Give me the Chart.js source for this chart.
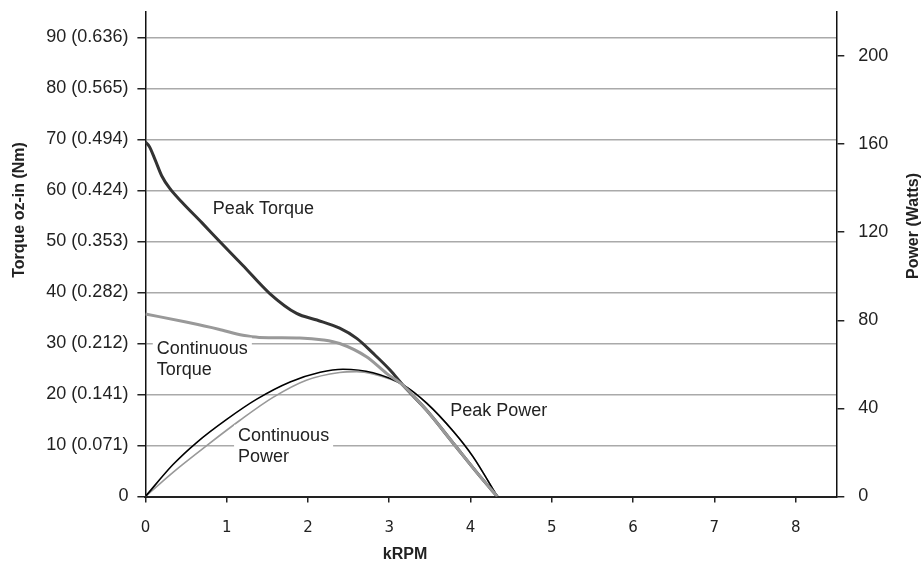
<!DOCTYPE html>
<html>
<head>
<meta charset="utf-8">
<script src="https://cdn.jsdelivr.net/npm/chart.js@4/dist/chart.umd.min.js"></script>
<style>
  html, body { margin: 0; padding: 0; background: #fff; }
  #wrap { width: 922px; height: 565px; }
</style>
</head>
<body>
<div id="wrap"><canvas id="chart" width="922" height="565"></canvas></div>
<script>
// Torque curves (kRPM vs oz-in)
const peakTorqueX = [0, 0.05, 0.12, 0.2, 0.3, 0.45, 0.7, 0.92, 1.2, 1.53, 1.86, 2.11, 2.39, 2.6, 2.8, 3.01, 3.17, 3.46, 3.79, 4.12, 4.33];
const peakTorqueY = [69.5, 68.6, 66.0, 62.9, 60.4, 57.7, 53.6, 49.9, 45.3, 39.8, 35.9, 34.6, 33.0, 31.0, 28.1, 24.8, 21.8, 16.9, 10.4, 3.9, 0];
const contTorqueX = [0, 0.5, 0.9, 1.2, 1.4, 1.9, 2.19, 2.39, 2.72, 2.97, 3.17, 3.46, 3.79, 4.12, 4.33];
const contTorqueY = [35.8, 34.2, 32.8, 31.6, 31.2, 31.1, 30.7, 30.0, 27.4, 24.1, 21.8, 16.9, 10.4, 3.9, 0];

// Power curves (kRPM vs Watts)
const peakPowerX = [0, 0.34, 0.63, 1.0, 1.37, 1.78, 2.15, 2.43, 2.8, 3.17, 3.46, 3.79, 4.03, 4.33];
const peakPowerY = [0, 14.5, 24.5, 35.0, 44.2, 52.0, 56.4, 57.8, 56.2, 50.7, 42.4, 29.5, 18.1, 0];
const contPowerX = [0, 0.34, 0.75, 1.16, 1.57, 1.98, 2.39, 2.6, 2.8, 3.17, 3.46, 3.79, 4.03, 4.33];
const contPowerY = [0, 11.0, 23.0, 34.5, 45.0, 52.8, 56.3, 56.7, 55.6, 50.7, 42.4, 29.5, 18.1, 0];

// tick labels
const kRpmTickLabels = ['0', '1', '2', '3', '4', '5', '6', '7', '8'];
const torqueTickLabels = ['0', '10 (0.071)', '20 (0.141)', '30 (0.212)', '40 (0.282)', '50 (0.353)', '60 (0.424)', '70 (0.494)', '80 (0.565)', '90 (0.636)'];
const powerTickLabels = ['0', '40', '80', '120', '160', '200'];

const toPoints = (xs, ys) => xs.map((x, i) => ({ x: x, y: ys[i] }));

const labelFont = '"Liberation Sans", Arial, sans-serif';

// curve labels, placed in data units (kRPM / oz-in)
const curveNotes = [
    { lines: ['Peak Torque'], x: 0.83, y: 56.3 },
    { lines: ['Continuous', 'Torque'], x: 0.14, y: 29.0, box: true },
    { lines: ['Continuous', 'Power'], x: 1.14, y: 11.9, box: true },
    { lines: ['Peak Power'], x: 3.75, y: 16.8 },
];

const textPlugin = {
    id: 'textPlugin',
    afterDatasetsDraw(chart) {
        const { ctx, scales } = chart;
        const x = scales.x, yT = scales.yTorque;
        ctx.save();
        ctx.font = '18px ' + labelFont;
        ctx.textBaseline = 'middle';
        ctx.textAlign = 'left';
        curveNotes.forEach((n) => {
            const px = x.getPixelForValue(n.x);
            const py = yT.getPixelForValue(n.y);
            if (n.box) {
                const w = Math.max(...n.lines.map((l) => ctx.measureText(l).width));
                ctx.fillStyle = '#fff';
                ctx.fillRect(px - 4, py - 11, w + 8, 21 * n.lines.length + 2);
            }
            ctx.fillStyle = '#222';
            n.lines.forEach((l, i) => ctx.fillText(l, px, py + i * 21));
        });

        // axis titles
        ctx.font = 'bold 16px ' + labelFont;
        ctx.fillStyle = '#222';
        ctx.textAlign = 'center';
        ctx.fillText('kRPM', 405, 555);

        ctx.save();
        ctx.translate(20, 210);
        ctx.rotate(-Math.PI / 2);
        ctx.fillText('Torque oz-in (Nm)', 0, 0);
        ctx.restore();

        ctx.save();
        ctx.translate(914, 226);
        ctx.rotate(-Math.PI / 2);
        ctx.fillText('Power (Watts)', 0, 0);
        ctx.restore();

        ctx.restore();
    },
};

const keepSteps = (step) => (scale) => {
    scale.ticks = scale.ticks.filter((t) => Math.abs(t.value / step - Math.round(t.value / step)) < 1e-6);
};

// fixed axis sizes, no extra room for overhanging labels
const fitWidth = (w) => (s) => { s.width = w; s.paddingTop = 0; s.paddingBottom = 0; };
const fitHeight = (h) => (s) => { s.height = h; s.paddingLeft = 0; s.paddingRight = 0; };

const ctx = document.getElementById('chart').getContext('2d');
new Chart(ctx, {
    type: 'line',
    data: {
        datasets: [
            {
                label: 'Peak Torque',
                data: toPoints(peakTorqueX, peakTorqueY),
                yAxisID: 'yTorque',
                borderColor: '#333333',
                borderWidth: 3,
                order: 2,
            },
            {
                label: 'Continuous Torque',
                data: toPoints(contTorqueX, contTorqueY),
                yAxisID: 'yTorque',
                borderColor: '#999999',
                borderWidth: 3,
                order: 1,
            },
            {
                label: 'Peak Power',
                data: toPoints(peakPowerX, peakPowerY),
                yAxisID: 'yPower',
                borderColor: '#000000',
                borderWidth: 1.6,
                order: 3,
            },
            {
                label: 'Continuous Power',
                data: toPoints(contPowerX, contPowerY),
                yAxisID: 'yPower',
                borderColor: '#999999',
                borderWidth: 1.6,
                order: 4,
            },
        ],
    },
    options: {
        responsive: false,
        animation: false,
        layout: { padding: { top: 12, left: 0, right: 0, bottom: 0 } },
        elements: {
            point: { radius: 0 },
            line: { cubicInterpolationMode: 'monotone', fill: false },
        },
        plugins: {
            legend: { display: false },
            tooltip: { enabled: false },
        },
        scales: {
            x: {
                type: 'linear',
                min: 0,
                max: 8.5,
                afterFit: fitHeight(68.5),
                afterBuildTicks: keepSteps(1),
                ticks: {
                    stepSize: 1,
                    padding: 17,
                    color: '#222',
                    font: { family: '"DejaVu Sans", sans-serif', size: 15 },
                    callback: (v) => kRpmTickLabels[v],
                },
                grid: { drawOnChartArea: false, tickLength: 6, color: '#222', lineWidth: 1.5 },
                border: { color: '#222', width: 2 },
            },
            yTorque: {
                position: 'left',
                min: 0,
                max: 95,
                afterFit: fitWidth(145.4),
                afterBuildTicks: keepSteps(10),
                ticks: {
                    stepSize: 10,
                    padding: 9,
                    color: '#222',
                    font: { family: labelFont, size: 18 },
                    callback: (v) => torqueTickLabels[v / 10],
                },
                grid: {
                    color: (c) => (c.tick && c.tick.value === 0 ? '#222' : '#aaaaaa'),
                    tickColor: '#222',
                    lineWidth: 1.5,
                    tickLength: 8,
                },
                border: { color: '#111', width: 1.5 },
            },
            yPower: {
                position: 'right',
                min: 0,
                max: 220,
                afterFit: fitWidth(85.7),
                afterBuildTicks: keepSteps(40),
                ticks: {
                    stepSize: 40,
                    padding: 14,
                    color: '#222',
                    font: { family: labelFont, size: 18 },
                    callback: (v) => powerTickLabels[v / 40],
                },
                grid: { drawOnChartArea: false, tickLength: 8, color: '#222', lineWidth: 1.5 },
                border: { color: '#111', width: 1.5 },
            },
        },
    },
    plugins: [textPlugin],
});
</script>
</body>
</html>
